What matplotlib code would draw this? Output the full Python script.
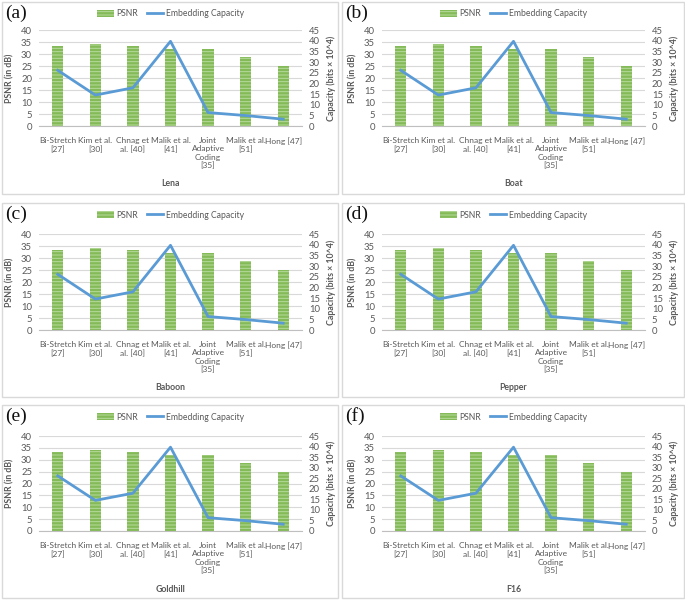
import matplotlib
matplotlib.use("Agg")
import matplotlib.pyplot as plt
from matplotlib.patches import Rectangle
import numpy as np

# ---- data ----
methods = ["Bi-Stretch\n[27]", "Kim et al.\n[30]", "Chnag et\nal. [40]", "Malik et al.\n[41]",
           "Joint\nAdaptive\nCoding\n[35]", "Malik et al.\n[51]", "Hong [47]"]
images = ["Lena", "Boat", "Baboon", "Pepper", "Goldhill", "F16"]
panel_tags = ["(a)", "(b)", "(c)", "(d)", "(e)", "(f)"]
psnr = [33.2, 34.2, 33.4, 31.9, 32.0, 28.8, 24.9]
capacity = [26.1, 14.5, 17.9, 39.7, 6.3, 4.9, 3.2]
psnr_ticks = [0, 5, 10, 15, 20, 25, 30, 35, 40]
cap_ticks = [0, 5, 10, 15, 20, 25, 30, 35, 40, 45]

W, H = 685, 600
plt.rcParams["hatch.linewidth"] = 0.7
fig = plt.figure(figsize=(W / 100, H / 100), dpi=100)
fig.patch.set_facecolor("white")

SANS = ["Lato", "DejaVu Sans"]
TXT = "#595959"

def fx(px):
    return px / W

def fy(py):
    return 1 - py / H

# panel frames (px): x0, x1, y0, y1
cols = [(2, 338), (342, 684)]
rows = [(2, 194), (203, 397), (405, 598)]
# plot areas (px)
plot_cols = [(39, 302), (382, 645)]
plot_rows = [(30, 126), (234, 330), (436, 531)]

x = np.arange(len(methods))

for i, name in enumerate(images):
    r, c = divmod(i, 2)
    cx0, cx1 = cols[c]
    ry0, ry1 = rows[r]
    fig.patches.append(Rectangle((fx(cx0), fy(ry1)), fx(cx1 - cx0), (ry1 - ry0) / H,
                                 transform=fig.transFigure, fill=False,
                                 edgecolor="#D9D9D9", linewidth=1.0, zorder=0))
    px0, px1 = plot_cols[c]
    py0, py1 = plot_rows[r]
    ax = fig.add_axes([fx(px0), fy(py1), fx(px1 - px0), (py1 - py0) / H])
    ax.set_facecolor("none")
    bars = ax.bar(x, psnr, width=0.3, color="#84BB58", edgecolor="#B8DA9E",
                  linewidth=0, hatch="-----", zorder=2, label="PSNR")
    ax.set_xlim(-0.5, len(methods) - 0.5)
    ax.set_ylim(0, 40)
    ax.set_yticks(psnr_ticks)
    ax.yaxis.grid(True, color="#D9D9D9", linewidth=0.8, zorder=0)
    ax.set_axisbelow(True)
    for s in ["top", "right", "left"]:
        ax.spines[s].set_visible(False)
    ax.spines["bottom"].set_color("#BFBFBF")
    ax.spines["bottom"].set_linewidth(0.8)
    ax.tick_params(axis="both", length=0, labelsize=6.8, labelcolor=TXT)
    ax.tick_params(axis="y", pad=5)
    ax.set_xticks(x)
    ax.set_xticklabels(methods, fontsize=6.0, color=TXT, linespacing=1.2, family=SANS)
    ax.tick_params(axis="x", pad=8)
    for lab in ax.get_yticklabels():
        lab.set_family(SANS)
    ax.set_ylabel("PSNR (in dB)", fontsize=6.3, color=TXT, fontweight="bold", family=SANS, labelpad=5)

    ax2 = ax.twinx()
    ln, = ax2.plot(x, capacity, color="#5B9BD5", linewidth=2.0, zorder=3,
                   solid_joinstyle="round", label="Embedding Capacity")
    ax2.set_ylim(0, 45)
    ax2.set_yticks(cap_ticks)
    for s in ["top", "right", "left", "bottom"]:
        ax2.spines[s].set_visible(False)
    ax2.tick_params(axis="y", length=0, labelsize=6.8, labelcolor=TXT, pad=5)
    for lab in ax2.get_yticklabels():
        lab.set_family(SANS)
    ax2.set_ylabel("Capacity (bits \u00d7 10^4)", fontsize=6.3, color=TXT,
                   fontweight="bold", family=SANS, labelpad=5)

    # x-axis title
    fig.text(fx((px0 + px1) / 2), fy(py1 + 58), name, ha="center", va="center",
             fontsize=6.3, color=TXT, fontweight="bold", family=SANS)
    # panel tag
    fig.text(fx(cx0 + 3), fy(ry0 + 11), panel_tags[i], ha="left", va="center",
             fontsize=14, color="#111111", family=["Liberation Serif", "DejaVu Serif"])
    # legend
    leg = ax.legend([bars, ln], ["PSNR", "Embedding Capacity"], loc="center",
                    bbox_to_anchor=(fx((px0 + px1) / 2), fy(ry0 + 12)),
                    bbox_transform=fig.transFigure, ncol=2, frameon=False,
                    prop={"family": SANS, "size": 6.2}, handlelength=1.9,
                    handleheight=0.9, columnspacing=1.0, handletextpad=0.3,
                    labelcolor=TXT)

fig.savefig("out.png", dpi=100, facecolor="white")
